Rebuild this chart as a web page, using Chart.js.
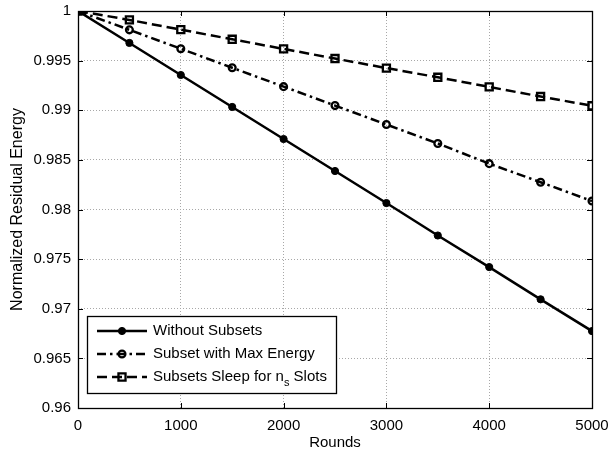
<!DOCTYPE html>
<html>
<head>
<meta charset="utf-8">
<script src="https://cdn.jsdelivr.net/npm/chart.js@4/dist/chart.umd.min.js"></script>
<style>
html,body{margin:0;padding:0;background:#fff;}
#c{display:block;}
</style>
</head>
<body>
<canvas id="c" width="609" height="455"></canvas>
<script>
// ---- data ----
const rounds = [0, 500, 1000, 1500, 2000, 2500, 3000, 3500, 4000, 4500, 5000];
const withoutSubsets = [1, 0.99678, 0.99355, 0.99033, 0.9871, 0.98388, 0.98065, 0.97738, 0.9742, 0.97095, 0.96775];
const subsetMaxEnergy = [1, 0.9981, 0.9962, 0.99428, 0.99238, 0.99047, 0.98856, 0.98665, 0.98462, 0.98275, 0.98085];
const subsetsSleep = [1, 0.9991, 0.99812, 0.99715, 0.99618, 0.99521, 0.99425, 0.99332, 0.99235, 0.99138, 0.99045];
const seriesLabels = ["Without Subsets", "Subset with Max Energy", "Subsets Sleep for n_s Slots"];
const xTicks = [0, 1000, 2000, 3000, 4000, 5000];
const yTicks = [0.96, 0.965, 0.97, 0.975, 0.98, 0.985, 0.99, 0.995, 1];
const yTickLabels = ["0.96", "0.965", "0.97", "0.975", "0.98", "0.985", "0.99", "0.995", "1"];
const xTitle = "Rounds";
const yTitle = "Normalized Residual Energy";

const FONT = "'Liberation Sans', Arial, Helvetica, sans-serif";

function pts(vals){ return rounds.map((r,i)=>({x:r, y:vals[i]})); }

const styles = [
  {borderDash: [], pointStyle: 'circle', pointRadius: 3.6, pointBackgroundColor: '#000', pointBorderWidth: 1},
  {borderDash: [9, 4, 2.5, 4], pointStyle: 'circle', pointRadius: 3.4, pointBackgroundColor: 'rgba(0,0,0,0)', pointBorderWidth: 2.3},
  {borderDash: [10, 5], pointStyle: 'rect', pointRadius: 5, pointBackgroundColor: 'rgba(0,0,0,0)', pointBorderWidth: 2.3}
];
const seriesValues = [withoutSubsets, subsetMaxEnergy, subsetsSleep];

const datasets = seriesValues.map((vals, i) => ({
  label: seriesLabels[i],
  data: pts(vals),
  borderColor: '#000',
  borderWidth: 2.5,
  borderDash: styles[i].borderDash,
  pointStyle: styles[i].pointStyle,
  pointRadius: styles[i].pointRadius,
  pointBackgroundColor: styles[i].pointBackgroundColor,
  pointBorderColor: '#000',
  pointBorderWidth: styles[i].pointBorderWidth,
  fill: false,
  tension: 0
}));

const boxPlugin = {
  id: 'boxTicks',
  afterDatasetsDraw(chart) {
    const ctx = chart.ctx;
    const a = chart.chartArea;
    const xs = chart.scales.x, ys = chart.scales.y;
    ctx.save();
    ctx.setLineDash([]);
    ctx.strokeStyle = '#000';
    ctx.lineWidth = 1;
    const L = 5;
    ctx.beginPath();
    xTicks.forEach(v => {
      const px = Math.round(xs.getPixelForValue(v)) + 0.5;
      ctx.moveTo(px, a.bottom); ctx.lineTo(px, a.bottom - L);
      ctx.moveTo(px, a.top); ctx.lineTo(px, a.top + L);
    });
    yTicks.forEach(v => {
      const py = Math.round(ys.getPixelForValue(v)) + 0.5;
      ctx.moveTo(a.left, py); ctx.lineTo(a.left + L, py);
      ctx.moveTo(a.right, py); ctx.lineTo(a.right - L, py);
    });
    ctx.stroke();
    ctx.lineWidth = 1.3;
    ctx.strokeRect(Math.round(a.left) + 0.5, Math.round(a.top) + 0.5, Math.round(a.right - a.left), Math.round(a.bottom - a.top));
    ctx.restore();
  }
};

const legendPlugin = {
  id: 'insideLegend',
  afterDraw(chart) {
    const ctx = chart.ctx;
    const a = chart.chartArea;
    const x0 = a.left + 9, y0 = a.bottom - 92;
    const w = 249, h = 77;
    ctx.save();
    ctx.fillStyle = '#fff';
    ctx.fillRect(x0, y0, w, h);
    ctx.strokeStyle = '#000';
    ctx.lineWidth = 1.3;
    ctx.setLineDash([]);
    ctx.strokeRect(x0 + 0.5, y0 + 0.5, w, h);
    chart.data.datasets.forEach((ds, i) => {
      const cy = y0 + 15 + i * 23;
      const lx1 = x0 + 10, lx2 = x0 + 60;
      ctx.strokeStyle = '#000';
      ctx.lineWidth = ds.borderWidth;
      ctx.setLineDash(ds.borderDash);
      ctx.beginPath();
      ctx.moveTo(lx1, cy); ctx.lineTo(lx2, cy);
      ctx.stroke();
      ctx.setLineDash([]);
      ctx.fillStyle = ds.pointBackgroundColor;
      ctx.lineWidth = ds.pointBorderWidth;
      ctx.beginPath();
      Chart.helpers.drawPoint(ctx, {pointStyle: ds.pointStyle, radius: ds.pointRadius, borderWidth: ds.pointBorderWidth, rotation: 0}, (lx1 + lx2) / 2, cy);
      ctx.fillStyle = '#000';
      ctx.textBaseline = 'middle';
      ctx.textAlign = 'left';
      let tx = x0 + 66;
      const parts = ds.label.split(/(_\w)/);
      parts.forEach(p => {
        if (p.startsWith('_')) {
          ctx.font = '11px ' + FONT;
          ctx.fillText(p.slice(1), tx, cy + 6);
          tx += ctx.measureText(p.slice(1)).width;
        } else {
          ctx.font = '15px ' + FONT;
          ctx.fillText(p, tx, cy);
          tx += ctx.measureText(p).width;
        }
      });
    });
    ctx.restore();
  }
};

new Chart(document.getElementById('c'), {
  type: 'line',
  data: { datasets },
  options: {
    responsive: false,
    devicePixelRatio: 1,
    animation: false,
    layout: { padding: { top: 11, right: 17, left: 0, bottom: 0 } },
    plugins: { legend: { display: false }, tooltip: { enabled: false } },
    scales: {
      x: {
        type: 'linear',
        min: 0, max: 5000,
        afterBuildTicks: s => { s.ticks = xTicks.map(v => ({value: v})); },
        afterFit: s => { s.height = 47; s.paddingLeft = 0; s.paddingRight = 0; },
        ticks: { color: '#000', font: { family: FONT, size: 15 }, padding: 9, maxRotation: 0, callback: v => String(v) },
        grid: { color: '#a8a8a8', lineWidth: 1, drawTicks: false },
        border: { display: false, dash: [1, 2] },
        title: { display: true, text: xTitle, color: '#000', font: { family: FONT, size: 15 }, padding: { top: 0, bottom: 3 } }
      },
      y: {
        type: 'linear',
        min: 0.96, max: 1,
        afterBuildTicks: s => { s.ticks = yTicks.map(v => ({value: v})); },
        afterFit: s => { s.width = 78; s.paddingTop = 0; s.paddingBottom = 0; },
        ticks: { color: '#000', font: { family: FONT, size: 15 }, padding: 7,
          callback: (v) => { const i = yTicks.findIndex(t => Math.abs(t - v) < 1e-9); return i >= 0 ? yTickLabels[i] : ''; } },
        grid: { color: '#a8a8a8', lineWidth: 1, drawTicks: false },
        border: { display: false, dash: [1, 2] },
        title: { display: true, text: yTitle, color: '#000', font: { family: FONT, size: 16 }, padding: { top: 8, bottom: 0 } }
      }
    }
  },
  plugins: [boxPlugin, legendPlugin]
});
</script>
</body>
</html>
